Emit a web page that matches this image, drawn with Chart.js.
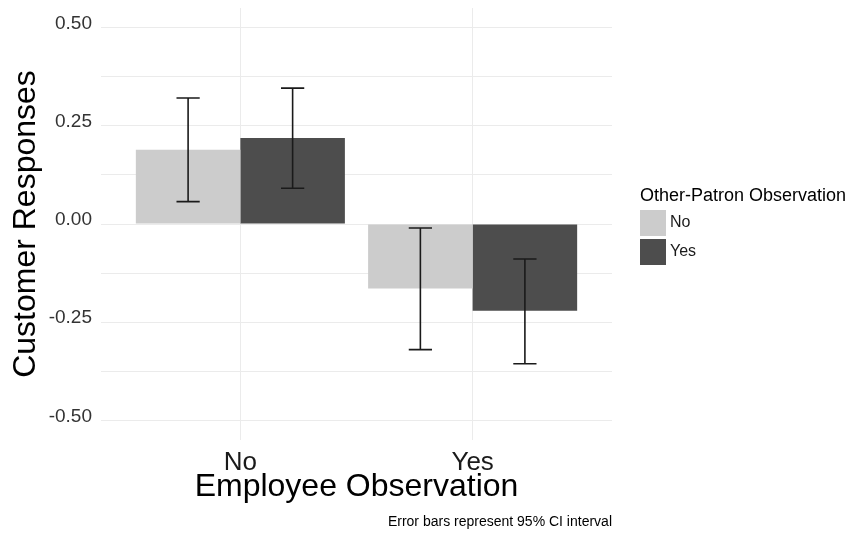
<!DOCTYPE html>
<html>
<head>
<meta charset="utf-8">
<script src="https://cdn.jsdelivr.net/npm/chart.js@4"></script>
<style>
  html, body { margin: 0; padding: 0; background: #fff; }
</style>
</head>
<body>
<canvas id="chart" width="851" height="533"></canvas>
<script>
// Group means and 95% CI bounds, by employee observation (No / Yes)
const employeeObs = ['No', 'Yes'];
const patronObs = ['No', 'Yes'];
const meanPatronNo = [0.189, -0.164];
const meanPatronYes = [0.219, -0.221];
const lowPatronNo = [0.057, -0.320];
const highPatronNo = [0.321, -0.010];
const lowPatronYes = [0.091, -0.356];
const highPatronYes = [0.346, -0.089];
const yTickValues = [-0.5, -0.375, -0.25, -0.125, 0, 0.125, 0.25, 0.375, 0.5];
const fillColors = ['#cccccc', '#4d4d4d'];

const FONT = "'Liberation Sans', Arial, sans-serif";

// whiskers with caps for each bar
const errorBars = {
    id: 'errorBars',
    afterDatasetsDraw(chart) {
        const ctx = chart.ctx;
        const xs = chart.scales.x, ys = chart.scales.y;
        const half = (xs.getPixelForValue(1.1) - xs.getPixelForValue(1)) / 2;
        ctx.save();
        ctx.strokeStyle = '#1a1a1a';
        ctx.lineWidth = 1.6;
        chart.data.datasets.forEach((ds, di) => {
            chart.getDatasetMeta(di).data.forEach((bar, i) => {
                const lo = ys.getPixelForValue(ds.ciLow[i]);
                const hi = ys.getPixelForValue(ds.ciHigh[i]);
                ctx.beginPath();
                ctx.moveTo(bar.x, hi); ctx.lineTo(bar.x, lo);
                ctx.moveTo(bar.x - half, hi); ctx.lineTo(bar.x + half, hi);
                ctx.moveTo(bar.x - half, lo); ctx.lineTo(bar.x + half, lo);
                ctx.stroke();
            });
        });
        ctx.restore();
    }
};

// legend on the right plus the caption under the x axis
const sideNotes = {
    id: 'sideNotes',
    afterDraw(chart) {
        const ctx = chart.ctx;
        const area = chart.chartArea;
        const lx = area.right + 28;
        ctx.save();
        ctx.fillStyle = '#000';
        ctx.textAlign = 'left';
        ctx.textBaseline = 'alphabetic';
        ctx.font = '18px ' + FONT;
        ctx.fillText('Other-Patron Observation', lx, 201);
        ctx.font = '16px ' + FONT;
        ctx.textBaseline = 'middle';
        chart.data.datasets.forEach((ds, i) => {
            const top = 210 + i * 29;
            ctx.fillStyle = ds.backgroundColor;
            ctx.fillRect(lx, top, 26, 26);
            ctx.fillStyle = '#1a1a1a';
            ctx.fillText(ds.label, lx + 30, top + 13);
        });
        ctx.font = '14px ' + FONT;
        ctx.textAlign = 'right';
        ctx.textBaseline = 'alphabetic';
        ctx.fillStyle = '#000';
        ctx.fillText('Error bars represent 95% CI interval', area.right, 526);
        ctx.restore();
    }
};

new Chart(document.getElementById('chart'), {
    type: 'bar',
    data: {
        datasets: [
            {
                label: patronObs[0],
                data: employeeObs.map((e, i) => ({ x: i + 1, y: meanPatronNo[i] })),
                ciLow: lowPatronNo,
                ciHigh: highPatronNo,
                backgroundColor: fillColors[0]
            },
            {
                label: patronObs[1],
                data: employeeObs.map((e, i) => ({ x: i + 1, y: meanPatronYes[i] })),
                ciLow: lowPatronYes,
                ciHigh: highPatronYes,
                backgroundColor: fillColors[1]
            }
        ]
    },
    options: {
        responsive: false,
        animation: false,
        categoryPercentage: 0.9,
        barPercentage: 1.0,
        borderWidth: 0,
        layout: { padding: { left: 0, right: 239, top: 8, bottom: 0 } },
        plugins: {
            legend: { display: false },
            tooltip: { enabled: false }
        },
        scales: {
            x: {
                type: 'linear',
                min: 0.4,
                max: 2.6,
                offset: false,
                afterBuildTicks: (axis) => { axis.ticks = employeeObs.map((e, i) => ({ value: i + 1 })); },
                afterFit: (axis) => { axis.height = 93; axis.paddingLeft = 0; axis.paddingRight = 0; },
                border: { display: false },
                grid: { color: '#ebebeb', lineWidth: 1, drawTicks: false, offset: false },
                ticks: {
                    padding: 7,
                    color: '#1a1a1a',
                    font: { family: FONT, size: 26 },
                    callback: (v) => employeeObs[v - 1]
                },
                title: {
                    display: true,
                    text: 'Employee Observation',
                    color: '#000',
                    font: { family: FONT, size: 32 },
                    padding: { top: 0, bottom: 27 }
                }
            },
            y: {
                min: -0.55,
                max: 0.55,
                afterBuildTicks: (axis) => { axis.ticks = yTickValues.map(v => ({ value: v })); },
                afterFit: (axis) => { axis.width = 101; axis.paddingTop = 0; axis.paddingBottom = 0; },
                border: { display: false },
                grid: { color: '#ebebeb', lineWidth: 1, drawTicks: false },
                ticks: {
                    padding: 9,
                    labelOffset: -4,
                    color: '#333333',
                    font: { family: FONT, size: 19 },
                    callback: (v) => (Math.abs(v * 4 - Math.round(v * 4)) < 1e-9 ? v.toFixed(2) : '')
                },
                title: {
                    display: true,
                    text: 'Customer Responses',
                    color: '#000',
                    font: { family: FONT, size: 32 },
                    padding: { top: 7, bottom: 0 }
                }
            }
        }
    },
    plugins: [errorBars, sideNotes]
});
</script>
</body>
</html>
